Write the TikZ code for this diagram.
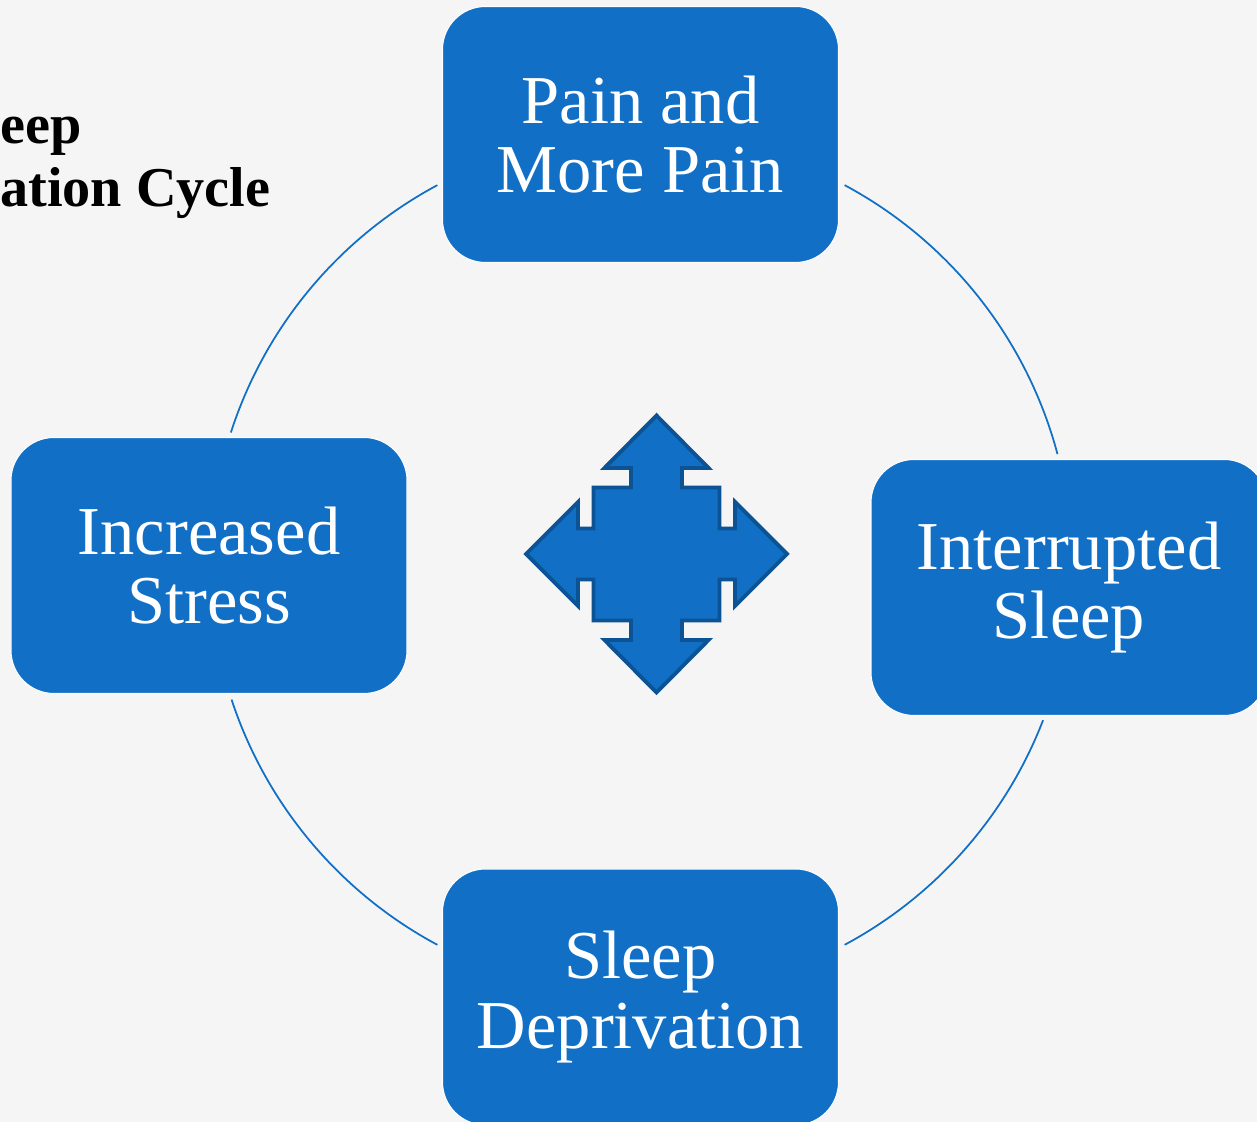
\documentclass[tikz,border=0pt]{standalone}
\usepackage{fontspec}
\setmainfont{Liberation Serif}
\usepackage{tikz}
\usepackage{xcolor}

\definecolor{paper}{HTML}{F5F5F5}
\definecolor{boxblue}{HTML}{1170C6}
\definecolor{edgeblue}{HTML}{0B5394}

\tikzset{
    stage/.style={rectangle, rounded corners=0.86cm, fill=boxblue, draw=white, line width=0.6pt,
        minimum width=7.92cm, minimum height=5.12cm, text=white, align=center,
        font=\fontsize{39}{39.5}\selectfont},
    cycline/.style={draw=boxblue, line width=1pt},
    title/.style={anchor=base west, inner sep=0pt, font=\bfseries\fontsize{32}{36}\selectfont}
}

\begin{document}
\begin{tikzpicture}
    % Page and background
    \useasboundingbox (0,0) rectangle (25.14,22.44);
    \clip (0,0) rectangle (25.14,22.44);
    \fill[paper] (0,0) rectangle (25.14,22.44);

    % Title (cut at the left edge)
    \node[title] (titleA) at (0,19.57) {eep};
    \node[title] (titleB) at (0,18.31) {ation Cycle};

    % Circle behind the stages
    \coordinate (cyc) at (12.82,11.14);
    \def\R{8.62}
    \foreach \a/\b in {118.2/162.1, 198.2/241.8, 298.2/338.9, 14.9/61.8} {
        \draw[cycline] ([shift={(\a:\R)}]cyc) arc[start angle=\a, end angle=\b, radius=\R];
    }

    % Stages
    \node[stage] (pain) at (12.81,19.75) {Pain and\\More Pain};
    \node[stage] (interrupted) at (21.38,10.69) {Interrupted\\Sleep};
    \node[stage] (deprivation) at (12.81,2.50) {Sleep\\Deprivation};
    \node[stage] (stress) at (4.18,11.13) {Increased\\Stress};

    % Quad arrow in the middle
    \coordinate (quad) at (13.13,11.36);
    \draw[fill=boxblue, draw=edgeblue, line width=2.2pt, shift={(quad)}]
        (0,2.77) -- (1.04,1.72) -- (0.51,1.72) -- (0.51,1.33) -- (1.26,1.33) -- (1.26,0.51)
        -- (1.57,0.51) -- (1.57,1.04) -- (2.61,0) -- (1.57,-1.04) -- (1.57,-0.51) -- (1.26,-0.51)
        -- (1.26,-1.33) -- (0.51,-1.33) -- (0.51,-1.72) -- (1.04,-1.72) -- (0,-2.77)
        -- (-1.04,-1.72) -- (-0.51,-1.72) -- (-0.51,-1.33) -- (-1.26,-1.33) -- (-1.26,-0.51)
        -- (-1.57,-0.51) -- (-1.57,-1.04) -- (-2.61,0) -- (-1.57,1.04) -- (-1.57,0.51) -- (-1.26,0.51)
        -- (-1.26,1.33) -- (-0.51,1.33) -- (-0.51,1.72) -- (-1.04,1.72) -- cycle;
\end{tikzpicture}
\end{document}
